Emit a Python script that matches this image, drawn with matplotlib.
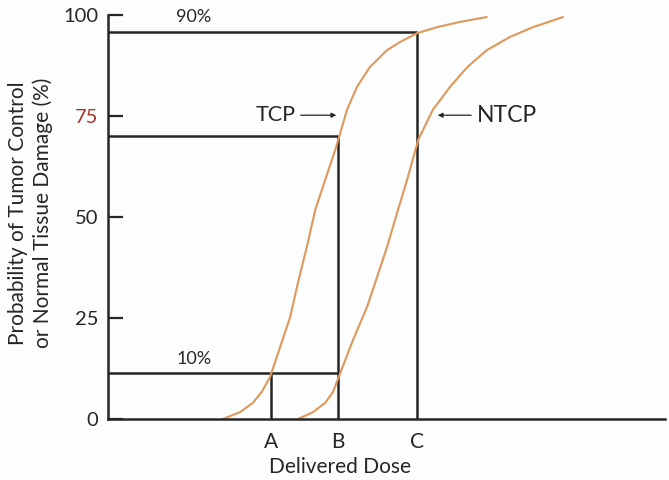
import matplotlib.pyplot as plt

plt.rcParams['font.family'] = ['Lato', 'DejaVu Sans']

# dose axis in arbitrary units (0-100), probability in %
tcp_dose = [20.6, 23.7, 26.0, 27.6, 29.1, 30.9, 32.7, 34.1, 35.7, 37.2,
            39.0, 40.8, 41.7, 42.9, 44.7, 47.0, 50.1, 52.4, 55.5, 59.1,
            63.2, 68.0]
tcp_prob = [0, 1.7, 4.0, 6.7, 10.4, 17.8, 25.2, 33.7, 42.6, 51.7,
            59.2, 66.6, 70.8, 76.5, 82.2, 87.1, 91.3, 93.3, 95.5, 97.0,
            98.3, 99.5]

ntcp_dose = [34.1, 36.8, 39.0, 40.4, 41.7, 44.0, 46.5, 48.3, 50.1, 51.9,
             53.7, 55.7, 58.3, 61.4, 64.5, 68.0, 72.2, 76.3, 81.7]
ntcp_prob = [0, 1.7, 4.0, 6.7, 11.4, 19.6, 27.7, 35.1, 42.6, 51.0,
             59.2, 69.1, 76.5, 82.2, 87.1, 91.3, 94.6, 97.0, 99.5]

dose_marks = [29.3, 41.3, 55.5]
dose_labels = ['A', 'B', 'C']
levels = [11.4, 70.0, 95.8]   # low, middle, high guide lines

y_ticks = [0, 25, 50, 75, 100]

ink = '#262626'
curve = '#e0975a'

fig = plt.figure(figsize=(6.69, 4.8), dpi=100)
fig.patch.set_facecolor('#fcfdfd')
ax = fig.add_axes([0.1614, 0.127, 0.8326, 0.8417])
ax.set_facecolor('#fcfdfd')

# guide lines
ax.hlines(levels[0], 0, dose_marks[1], color=ink, lw=1.8)
ax.hlines(levels[1], 0, dose_marks[1], color=ink, lw=1.8)
ax.hlines(levels[2], 0, dose_marks[2], color=ink, lw=1.8)
ax.vlines(dose_marks[0], 0, levels[0], color=ink, lw=1.8)
ax.vlines(dose_marks[1], 0, levels[1], color=ink, lw=1.8)
ax.vlines(dose_marks[2], 0, levels[2], color=ink, lw=1.8)

# dose-response curves
ax.plot(tcp_dose, tcp_prob, color=curve, lw=1.5,
        solid_capstyle='round', solid_joinstyle='round')
ax.plot(ntcp_dose, ntcp_prob, color=curve, lw=1.5,
        solid_capstyle='round', solid_joinstyle='round')

ax.text(15.4, 97.6, '90%', ha='center', va='bottom', fontsize=13, color=ink)
ax.text(15.4, 12.9, '10%', ha='center', va='bottom', fontsize=13, color=ink)

ax.annotate('TCP', xy=(41.0, 75.2), xytext=(33.6, 75.2),
            ha='right', va='center', fontsize=15.5, color=ink,
            arrowprops=dict(arrowstyle='-|>', color=ink, lw=0.9,
                            mutation_scale=7, shrinkA=2, shrinkB=0))
ax.annotate('NTCP', xy=(59.2, 75.2), xytext=(66.2, 75.2),
            ha='left', va='center', fontsize=16.5, color=ink,
            arrowprops=dict(arrowstyle='-|>', color=ink, lw=0.9,
                            mutation_scale=7, shrinkA=2, shrinkB=0))

ax.set_xlim(0, 100)
ax.set_ylim(0, 100)
ax.spines['top'].set_visible(False)
ax.spines['right'].set_visible(False)
for s in ['left', 'bottom']:
    ax.spines[s].set_color(ink)
    ax.spines[s].set_linewidth(1.8)

ax.set_yticks(y_ticks)
ax.set_yticklabels([str(t) for t in y_ticks])
ax.tick_params(axis='y', direction='in', length=11, width=1.6, color=ink,
               labelsize=14.5, labelcolor=ink, pad=7)
ax.get_yticklabels()[3].set_color('#a8342c')

ax.set_xticks(dose_marks)
ax.set_xticklabels(dose_labels)
ax.tick_params(axis='x', length=0, labelsize=15, labelcolor=ink, pad=9)

ax.set_xlabel('Delivered Dose', fontsize=15, color=ink)
ax.xaxis.set_label_coords(0.4165, -0.095)
ax.set_ylabel('Probability of Tumor Control\nor Normal Tissue Damage (%)',
              fontsize=15, color=ink, linespacing=1.3)
ax.yaxis.set_label_coords(-0.098, 0.51)

fig.savefig('out.png', dpi=100, facecolor=fig.get_facecolor())
